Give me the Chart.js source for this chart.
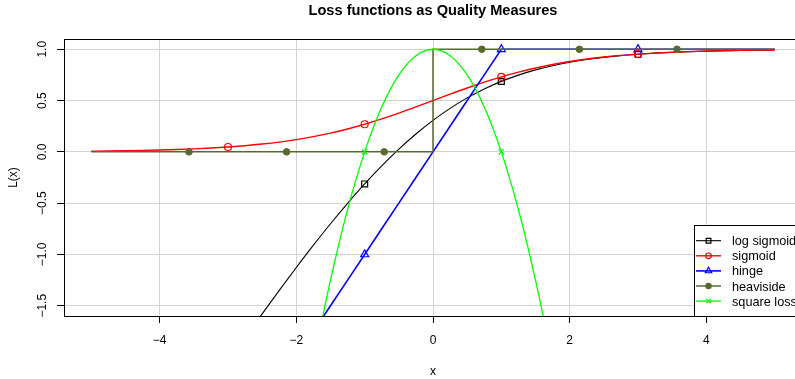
<!DOCTYPE html>
<html>
<head>
<meta charset="utf-8">
<script src="https://cdn.jsdelivr.net/npm/chart.js@4.4.1/dist/chart.umd.min.js"></script>
<style>
  html, body { margin: 0; padding: 0; background: #fff; overflow: hidden; }
  #wrap { width: 830px; height: 379px; }
</style>
</head>
<body>
<div id="wrap"><canvas id="lossChart" width="830" height="379"></canvas></div>
<script>
// x grid the curves are sampled on
var xs = [-5, -4.75, -4.5, -4.25, -4, -3.75, -3.5, -3.25, -3, -2.75, -2.5, -2.25, -2, -1.75, -1.5, -1.25,
          -1, -0.75, -0.5, -0.25, 0, 0.25, 0.5, 0.75, 1, 1.25, 1.5, 1.75, 2, 2.25, 2.5, 2.75,
          3, 3.25, 3.5, 3.75, 4, 4.25, 4.5, 4.75, 5];

var logSigmoid = [-4.007, -3.759, -3.511, -3.264, -3.018, -2.773, -2.530, -2.288, -2.049, -1.812, -1.579, -1.350,
                  -1.127, -0.910, -0.701, -0.502, -0.313, -0.137, 0.026, 0.174, 0.307, 0.424, 0.526, 0.613,
                  0.687, 0.748, 0.799, 0.840, 0.873, 0.900, 0.921, 0.938, 0.951, 0.962, 0.970, 0.977,
                  0.982, 0.986, 0.989, 0.991, 0.993];

var sigmoid = [0.0067, 0.0086, 0.0110, 0.0141, 0.0180, 0.0230, 0.0293, 0.0373, 0.0474, 0.0601, 0.0759, 0.0953,
               0.1192, 0.1480, 0.1824, 0.2227, 0.2689, 0.3208, 0.3775, 0.4378, 0.5, 0.5622, 0.6225, 0.6792,
               0.7311, 0.7773, 0.8176, 0.8520, 0.8808, 0.9047, 0.9241, 0.9399, 0.9526, 0.9627, 0.9707, 0.9770,
               0.9820, 0.9859, 0.9890, 0.9914, 0.9933];

var hinge = [-5, -4.75, -4.5, -4.25, -4, -3.75, -3.5, -3.25, -3, -2.75, -2.5, -2.25, -2, -1.75, -1.5, -1.25,
             -1, -0.75, -0.5, -0.25, 0, 0.25, 0.5, 0.75, 1, 1, 1, 1, 1, 1, 1, 1,
             1, 1, 1, 1, 1, 1, 1, 1, 1];

var squareLoss = [-24, -21.5625, -19.25, -17.0625, -15, -13.0625, -11.25, -9.5625, -8, -6.5625, -5.25, -4.0625,
                  -3, -2.0625, -1.25, -0.5625, 0, 0.4375, 0.75, 0.9375, 1, 0.9375, 0.75, 0.4375,
                  0, -0.5625, -1.25, -2.0625, -3, -4.0625, -5.25, -6.5625, -8, -9.5625, -11.25, -13.0625,
                  -15, -17.0625, -19.25, -21.5625, -24];

var heavisideX = [-5, 0, 0, 5];
var heavisideY = [0, 0, 1, 1];
var heavisidePtX = [-3.571, -2.143, -0.714, 0.714, 2.143, 3.571];
var heavisidePtY = [0, 0, 0, 1, 1, 1];

// grid positions that carry a plotting symbol
var markerX = [-3, -1, 1, 3];

var xTicks = [-4, -2, 0, 2, 4];
var xTickLabels = ['\u22124', '\u22122', '0', '2', '4'];
var yTicks = [-1.5, -1, -0.5, 0, 0.5, 1];
var yTickLabels = ['\u22121.5', '\u22121.0', '\u22120.5', '0.0', '0.5', '1.0'];

var seriesNames = ['log sigmoid', 'sigmoid', 'hinge', 'heaviside', 'square loss'];
var seriesColors = ['#000000', '#ff0000', '#0000ff', '#556b2f', '#00ff00'];
var seriesSymbols = ['rect', 'circle', 'triangle', 'circle', 'crossRot'];
var seriesFilled = [false, false, false, true, false];
var symbolRadius = [4.2, 3.5, 4.6, 3.3, 3.8];
var lineWidths = [1.1, 1.4, 1.6, 1.5, 1.3];

var FONT = '"Liberation Sans", Arial, Helvetica, sans-serif';

function pts(xv, yv) {
    return xv.map(function (x, i) { return { x: x, y: yv[i] }; });
}

function markerRadius(r) {
    return function (c) { return markerX.indexOf(xs[c.dataIndex]) >= 0 ? r : 0; };
}

function curve(i, values, smooth) {
    return {
        data: pts(xs, values),
        showLine: true,
        borderColor: seriesColors[i],
        borderWidth: lineWidths[i],
        cubicInterpolationMode: smooth ? 'monotone' : 'default',
        tension: 0,
        pointStyle: seriesSymbols[i],
        pointRadius: markerRadius(symbolRadius[i]),
        pointBorderColor: seriesColors[i],
        pointBackgroundColor: 'rgba(0,0,0,0)',
        pointBorderWidth: 1.2,
        order: 5 - i
    };
}

function drawSymbol(ctx, style, x, y, r, color, filled) {
    ctx.save();
    ctx.strokeStyle = color;
    ctx.fillStyle = color;
    ctx.lineWidth = 1.2;
    ctx.beginPath();
    if (style === 'circle') {
        ctx.arc(x, y, r, 0, Math.PI * 2);
    } else if (style === 'rect') {
        var h = r * Math.SQRT1_2;
        ctx.rect(x - h, y - h, 2 * h, 2 * h);
    } else if (style === 'triangle') {
        var a = 0;
        ctx.moveTo(x + Math.sin(a) * r, y - Math.cos(a) * r);
        a += 2 * Math.PI / 3;
        ctx.lineTo(x + Math.sin(a) * r, y - Math.cos(a) * r);
        a += 2 * Math.PI / 3;
        ctx.lineTo(x + Math.sin(a) * r, y - Math.cos(a) * r);
        ctx.closePath();
    } else if (style === 'crossRot') {
        var d = r * Math.SQRT1_2;
        ctx.moveTo(x - d, y - d); ctx.lineTo(x + d, y + d);
        ctx.moveTo(x - d, y + d); ctx.lineTo(x + d, y - d);
    }
    if (filled) ctx.fill();
    ctx.stroke();
    ctx.restore();
}

// box, title, axis annotation and the legend, drawn on top of the datasets
var decorations = {
    id: 'decorations',
    afterDraw: function (chart) {
        var ctx = chart.ctx;
        var ca = chart.chartArea;
        var xs_ = chart.scales.x, ys_ = chart.scales.y;

        ctx.save();
        ctx.strokeStyle = '#000';
        ctx.lineWidth = 1;
        ctx.strokeRect(ca.left + 0.5, ca.top + 0.5, ca.right - ca.left, ca.bottom - ca.top);

        ctx.fillStyle = '#000';
        ctx.font = 'bold 14.6px ' + FONT;
        ctx.textAlign = 'center';
        ctx.textBaseline = 'alphabetic';
        ctx.fillText('Loss functions as Quality Measures', (ca.left + ca.right) / 2, 14.5);

        ctx.font = '12px ' + FONT;
        xTicks.forEach(function (v, i) {
            ctx.fillText(xTickLabels[i], xs_.getPixelForValue(v), 343.5);
        });
        ctx.fillText('x', (ca.left + ca.right) / 2, 374.5);

        yTicks.forEach(function (v, i) {
            ctx.save();
            ctx.translate(46, ys_.getPixelForValue(v));
            ctx.rotate(-Math.PI / 2);
            ctx.fillText(yTickLabels[i], 0, 0);
            ctx.restore();
        });
        ctx.save();
        ctx.translate(17, (ca.top + ca.bottom) / 2);
        ctx.rotate(-Math.PI / 2);
        ctx.fillText('L(x)', 0, 0);
        ctx.restore();

        // legend, bottom right corner of the plot
        var boxW = 108, boxH = 91;
        var bx = ca.right - boxW, by = ca.bottom - boxH;
        ctx.fillStyle = '#fff';
        ctx.fillRect(bx, by, boxW, boxH);
        ctx.strokeStyle = '#000';
        ctx.strokeRect(bx + 0.5, by + 0.5, boxW, boxH);
        ctx.textAlign = 'left';
        ctx.font = '12.7px ' + FONT;
        seriesNames.forEach(function (name, i) {
            var cy = by + 15.7 + i * 15.1;
            ctx.strokeStyle = seriesColors[i];
            ctx.lineWidth = lineWidths[i];
            ctx.beginPath();
            ctx.moveTo(bx + 2, cy);
            ctx.lineTo(bx + 27, cy);
            ctx.stroke();
            drawSymbol(ctx, seriesSymbols[i], bx + 14.5, cy, symbolRadius[i] * 0.8, seriesColors[i], seriesFilled[i]);
            ctx.fillStyle = '#000';
            ctx.fillText(name, bx + 38, cy + 4.5);
        });
        ctx.restore();
    }
};

var ctx = document.getElementById('lossChart');
var chart = new Chart(ctx, {
    type: 'scatter',
    data: {
        datasets: [
            curve(0, logSigmoid, true),
            curve(1, sigmoid, true),
            curve(2, hinge, false),
            {
                data: pts(heavisideX, heavisideY),
                showLine: true,
                borderColor: seriesColors[3],
                borderWidth: lineWidths[3],
                pointRadius: 0,
                order: 2
            },
            {
                data: pts(heavisidePtX, heavisidePtY),
                showLine: false,
                pointStyle: 'circle',
                pointRadius: symbolRadius[3],
                pointBorderColor: seriesColors[3],
                pointBackgroundColor: seriesColors[3],
                pointBorderWidth: 1,
                order: 2
            },
            curve(4, squareLoss, true)
        ]
    },
    options: {
        responsive: false,
        animation: false,
        events: [],
        layout: { padding: { left: 0, right: 28, top: 39, bottom: 0 } },
        plugins: {
            legend: { display: false },
            tooltip: { enabled: false },
            title: { display: false }
        },
        scales: {
            x: {
                type: 'linear',
                min: -5.4,
                max: 5.4,
                afterBuildTicks: function (s) { s.ticks = xTicks.map(function (v) { return { value: v }; }); },
                afterFit: function (s) { s.height = 63; },
                ticks: { display: false },
                grid: { color: '#d3d3d3', lineWidth: 1, tickColor: '#000', tickLength: 7 },
                border: { display: false }
            },
            y: {
                min: -1.6,
                max: 1.1,
                afterBuildTicks: function (s) { s.ticks = yTicks.map(function (v) { return { value: v }; }); },
                afterFit: function (s) { s.width = 64; },
                ticks: { display: false },
                grid: { color: '#d3d3d3', lineWidth: 1, tickColor: '#000', tickLength: 7 },
                border: { display: false }
            }
        }
    },
    plugins: [decorations]
});
</script>
</body>
</html>
